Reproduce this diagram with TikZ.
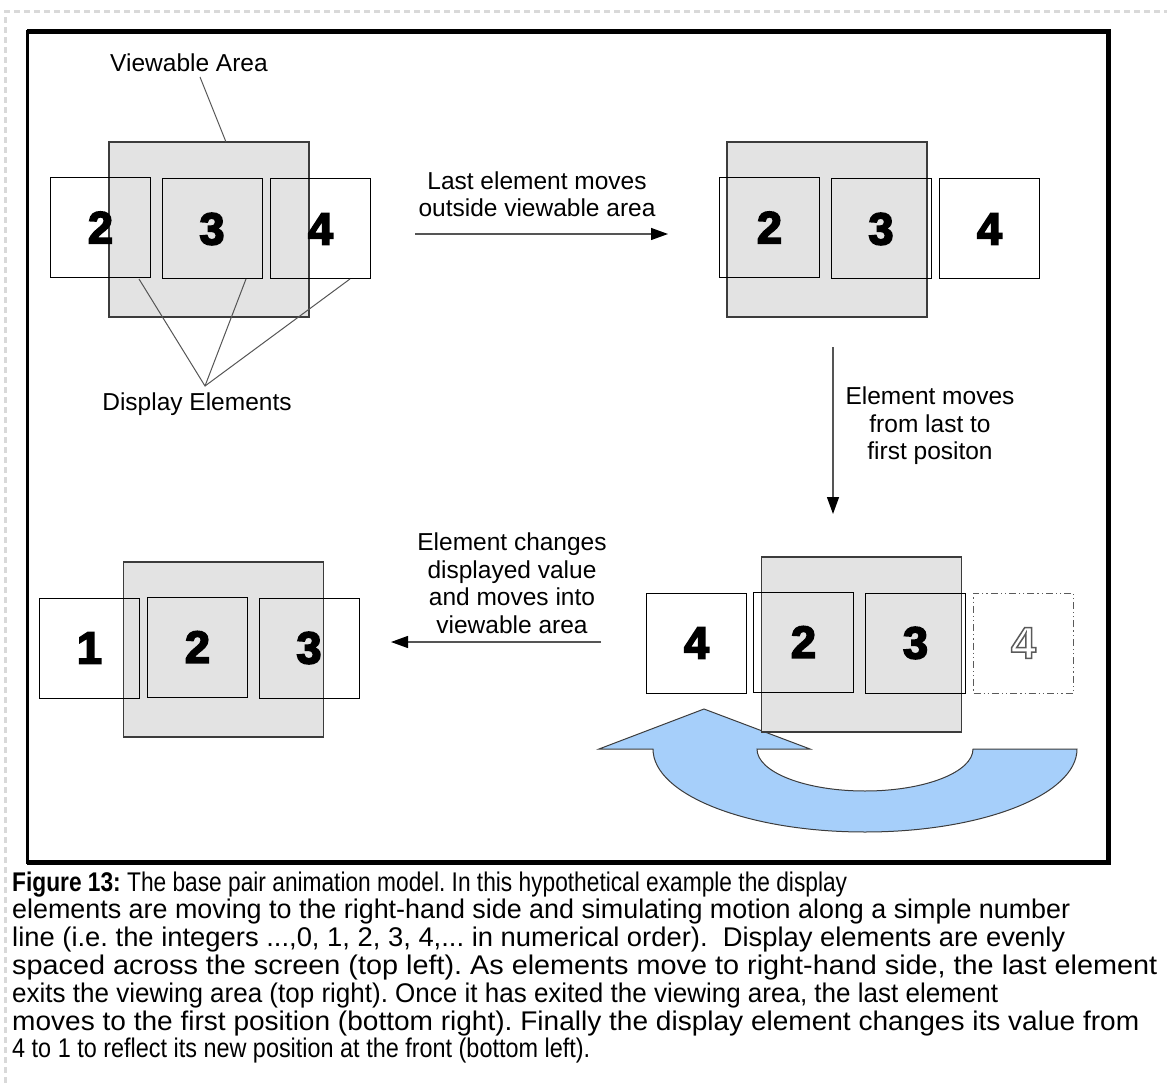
\documentclass[tikz,border=0pt]{standalone}
\usepackage{fontspec}
\setmainfont{Liberation Sans}
\newfontfamily\numfont[FakeBold=3.8]{Liberation Sans Bold}
\usepackage{graphicx}
\usetikzlibrary{arrows.meta,calc}
\definecolor{areagray}{RGB}{227,227,227}
\definecolor{edgegray}{RGB}{60,60,60}
\definecolor{leadergray}{RGB}{85,85,85}
\definecolor{arrowblue}{RGB}{166,207,250}
\definecolor{framedash}{RGB}{217,217,217}
\definecolor{ghostgray}{RGB}{90,90,90}
\newcommand{\capline}[2]{\resizebox{#1pt}{\height}{#2}}
\newcommand{\hollow}[1]{\special{pdf:literal direct 1 Tr 1.5 w}#1\special{pdf:literal direct 0 Tr}}
\frenchspacing
\begin{document}
\begin{tikzpicture}[x=1pt,y=-1pt,
  area/.style={rectangle, draw=edgegray, fill=areagray, line width=1.2pt,
    minimum width=200pt, minimum height=175pt, inner sep=0pt},
  elem/.style={rectangle, draw=black, line width=1pt, minimum width=100pt,
    minimum height=100pt, inner sep=0pt, font=\fontsize{45}{45}\numfont},
  ghost/.style={rectangle, draw=ghostgray, text=ghostgray, line width=1pt,
    minimum width=100pt, minimum height=100pt, inner sep=0pt,
    font=\fontsize{45}{45}\bfseries,
    dash pattern=on 7pt off 3pt on 1.2pt off 3pt on 1.2pt off 3pt},
  lbl/.style={align=center, inner sep=0pt, font=\fontsize{24.5}{27.5}\selectfont},
  leader/.style={draw=leadergray, line width=1pt},
  flow/.style={draw=leadergray, line width=1.3pt,
    -{Triangle[length=17pt,width=12pt,color=black]}},
  capfont/.style={anchor=base west, inner sep=0pt, font=\fontsize{27}{28}\selectfont}
]
\useasboundingbox (0,0) rectangle (1167,1083);

% outer dashed margin lines
\draw[framedash, line width=3pt, dash pattern=on 6pt off 4pt] (5,1083) -- (5,12) -- (1167,12);

% frame
\draw[line width=3pt] (27,32) rectangle (1108,862);
\draw[line width=5pt] (27,32) -- (1108,32) -- (1108,862) -- (27,862);

% ---------- top left ----------
\node[area] (g1) at (209,229.5) {};
\node[elem] (b12) at (100.5,227.5) {2};
\node[elem] (b13) at (212,229) {3};
\node[elem] (b14) at (320.5,229) {4};
\node[lbl] (va) at (189,63) {Viewable Area};
\coordinate (vaend) at (200,77);
\coordinate (vatop) at (226,142);
\draw[leader] (vaend) -- (vatop);
\node[lbl] (de) at (197,404) {Display Elements};
\coordinate (dejoin) at (205,386);
\coordinate (d2) at (139,279);
\coordinate (d3) at (246,279);
\coordinate (d4) at (350,279);
\draw[leader] (d2) -- (dejoin) -- (d4);
\draw[leader] (d3) -- (dejoin);

% ---------- top arrow ----------
\node[lbl] (t1) at (537,194) {Last element moves\\outside viewable area};
\coordinate (a1s) at (415,234);
\coordinate (a1e) at (668,234);
\draw[flow] (a1s) -- (a1e);

% ---------- top right ----------
\node[area] (g2) at (827,229.5) {};
\node[elem] (b22) at (769.5,227.5) {2};
\node[elem] (b23) at (881,229) {3};
\node[elem, fill=white] (b24) at (989.5,229) {4};

% ---------- vertical arrow ----------
\coordinate (a2s) at (833,347);
\coordinate (a2e) at (833,514);
\draw[flow] (a2s) -- (a2e);
\node[lbl] (t2) at (930,426) {Element moves\\from last to\\first positon};

% ---------- bottom arrow ----------
\node[lbl] (t3) at (512,583) {Element changes\\displayed value\\and moves into\\viewable area};
\coordinate (a3s) at (601,642);
\coordinate (a3e) at (391,642);
\draw[flow] (a3s) -- (a3e);

% ---------- bottom left ----------
\node[area] (g3) at (223.5,649.5) {};
\node[elem] (b31) at (89.5,648) {1};
\node[elem] (b32) at (197.5,647) {2};
\node[elem] (b33) at (309,648) {3};

% ---------- bottom right ----------
\draw[draw=edgegray, line width=1pt, fill=arrowblue]
  (704,709) -- (810,749) -- (757,749)
  .. controls (757,772.2) and (805.4,791) .. (865,791)
  .. controls (924.6,791) and (973,772.2) .. (973,749)
  -- (1077,749)
  .. controls (1077,794.8) and (982.1,832) .. (865,832)
  .. controls (747.9,832) and (653,794.8) .. (653,749)
  -- (599,749) -- cycle;
\node[area] (g4) at (861.5,644.5) {};
\node[elem] (b44) at (696.5,643) {4};
\node[elem] (b42) at (803.5,642) {2};
\node[elem] (b43) at (915.5,643) {3};
\node[ghost] (b45) at (1023.5,643) {\hollow{4}};

% ---------- caption ----------
\node[capfont] (c1) at (12,891) {\capline{835}{\textbf{Figure 13:} The base pair animation model. In this hypothetical example the display}};
\node[capfont] (c2) at (12,918.8) {\capline{1058}{elements are moving to the right-hand side and simulating motion along a simple number}};
\node[capfont] (c3) at (12,946.6) {\capline{1053}{line (i.e. the integers ...,0, 1, 2, 3, 4,... in numerical order).\ \ Display elements are evenly}};
\node[capfont] (c4) at (12,974.4) {\capline{1145}{spaced across the screen (top left). As elements move to right-hand side, the last element}};
\node[capfont] (c5) at (12,1002.2) {\capline{986}{exits the viewing area (top right). Once it has exited the viewing area, the last element}};
\node[capfont] (c6) at (12,1030) {\capline{1127}{moves to the first position (bottom right). Finally the display element changes its value from}};
\node[capfont] (c7) at (12,1057.8) {\capline{578}{4 to 1 to reflect its new position at the front (bottom left).}};
\end{tikzpicture}
\end{document}
